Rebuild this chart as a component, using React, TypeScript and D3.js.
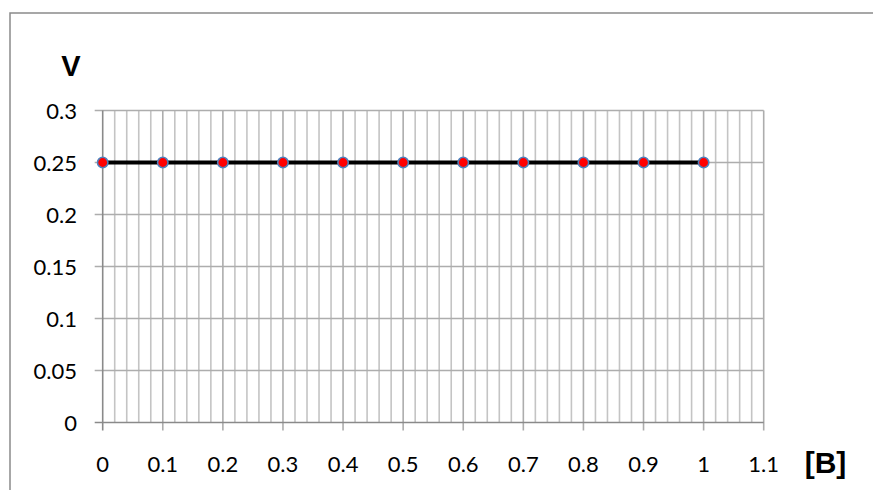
import React from "react";
import * as d3 from "d3";

const xValues = [0, 0.1, 0.2, 0.3, 0.4, 0.5, 0.6, 0.7, 0.8, 0.9, 1];
const yValues = [0.25, 0.25, 0.25, 0.25, 0.25, 0.25, 0.25, 0.25, 0.25, 0.25, 0.25];
const xTickLabels = ["0", "0.1", "0.2", "0.3", "0.4", "0.5", "0.6", "0.7", "0.8", "0.9", "1", "1.1"];
const yTickLabels = ["0", "0.05", "0.1", "0.15", "0.2", "0.25", "0.3"];
const xAxisTitle = "[B]";
const yAxisTitle = "V";

const W = 873;
const H = 490;
const FONT = "Lato, 'Open Sans', sans-serif";
const TITLE_FONT = "'Liberation Sans', Arial, sans-serif";

export default function App() {
  const x = d3.scaleLinear().domain([0, 1.1]).range([102.7, 763.7]);
  const y = d3.scaleLinear().domain([0, 0.3]).range([422.5, 110.5]);
  const minorX = d3.range(0, 56).map((i) => i * 0.02).filter((v) => Math.abs(v * 10 - Math.round(v * 10)) > 1e-6);
  const majorX = xTickLabels.map(Number);
  const majorY = yTickLabels.map(Number);
  const line = d3
    .line<number>()
    .x((_, i) => x(xValues[i]))
    .y((d) => y(d));

  return (
    <svg
      width={W}
      height={H}
      style={{ position: "absolute", left: 0, top: 0, background: "#fff" }}
      fontFamily={FONT}
    >
      <rect x={10} y={13} width={W + 20} height={H + 20} fill="#fff" stroke="#8a8a8a" strokeWidth={1.5} />
      {minorX.map((v, i) => (
        <line key={"mx" + i} x1={x(v)} x2={x(v)} y1={y(0.3)} y2={y(0)} stroke="#c4c4c4" strokeWidth={1.6} />
      ))}
      {majorX.slice(1).map((v, i) => (
        <line key={"Mx" + i} x1={x(v)} x2={x(v)} y1={y(0.3)} y2={y(0) + 8} stroke="#adadad" strokeWidth={1.6} />
      ))}
      {majorY.slice(1).map((v, i) => (
        <line key={"My" + i} x1={x(0) - 8} x2={x(1.1)} y1={y(v)} y2={y(v)} stroke="#adadad" strokeWidth={1.6} />
      ))}
      <line x1={x(0)} x2={x(0)} y1={y(0.3)} y2={y(0) + 8} stroke="#8a8a8a" strokeWidth={1.6} />
      <line x1={x(0) - 8} x2={x(1.1)} y1={y(0)} y2={y(0)} stroke="#8a8a8a" strokeWidth={1.6} />
      {yTickLabels.map((t, i) => (
        <text key={"yl" + i} x={77} y={y(majorY[i]) + 8} textAnchor="end" fontSize={22} fill="#000">
          {t}
        </text>
      ))}
      {xTickLabels.map((t, i) => (
        <text key={"xl" + i} x={x(majorX[i])} y={472} textAnchor="middle" fontSize={22} fill="#000">
          {t}
        </text>
      ))}
      <path d={line(yValues) || ""} fill="none" stroke="#000" strokeWidth={4} />
      {yValues.map((v, i) => (
        <circle key={"p" + i} cx={x(xValues[i])} cy={y(v)} r={5.2} fill="#ff0000" stroke="#4f81bd" strokeWidth={1.6} />
      ))}
      <text x={71} y={76} textAnchor="middle" fontSize={29} fontWeight="bold" fontFamily={TITLE_FONT} fill="#000">
        {yAxisTitle}
      </text>
      <text x={825.5} y={473} textAnchor="middle" fontSize={30} fontWeight="bold" fontFamily={TITLE_FONT} fill="#000">
        {xAxisTitle}
      </text>
    </svg>
  );
}
